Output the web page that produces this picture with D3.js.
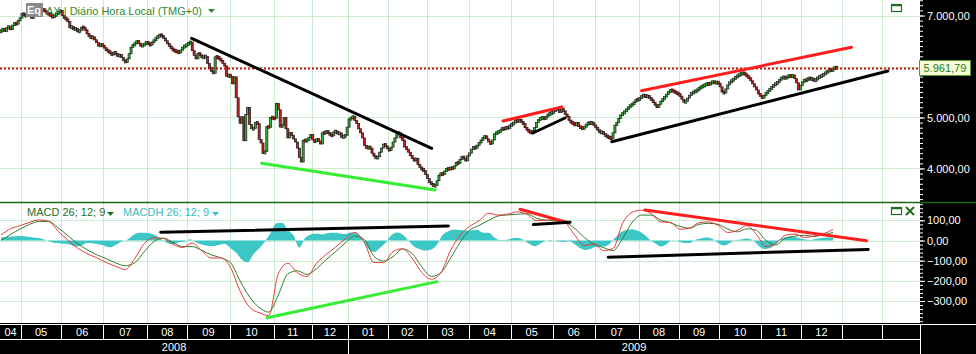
<!DOCTYPE html>
<html>
<head>
<meta charset="utf-8" />
<style>
  html, body { margin: 0; padding: 0; background: #fff; }
  svg { display: block; font-family: "Liberation Sans", Arial, sans-serif; }
</style>
</head>
<body>
<svg id="chart" width="976" height="354"></svg>
<script src="https://cdn.jsdelivr.net/npm/d3@7/dist/d3.min.js"></script>
<script>
// ---------- data ----------
// months on the time axis and trading-day slots in each (Apr 2008 partial .. Feb 2010 empty)
const monthLabels = ['04','05','06','07','08','09','10','11','12','01','02','03','04','05','06','07','08','09','10','11','12','',''];
const monthSlots  = [11,21,22,23,21,22,23,20,19,21,20,22,22,22,22,23,21,21,22,21,21,21,20];
const yearLabels = ['2008', '2009'];
const yearFirstMonth = [0, 9];

// daily closes, one row per month
const closes2008 = [
  [6700,6740,6690,6760,6780,6720,6810,6850,6830,6900,6950],
  [7040,7010,6990,7050,7000,6950,6990,7040,7070,7110,7100,7120,7080,7040,7030,6990,6970,7000,7030,7070,7096],
  [7000,6950,6930,6880,6760,6780,6720,6750,6680,6700,6770,6760,6720,6640,6600,6560,6580,6520,6470,6400,6430,6418],
  [6360,6320,6300,6260,6230,6280,6250,6200,6230,6180,6120,6080,6150,6250,6380,6420,6450,6500,6460,6400,6420,6440,6479],
  [6440,6420,6480,6510,6560,6590,6620,6600,6560,6500,6450,6400,6350,6320,6300,6290,6270,6320,6380,6400,6422],
  [6460,6480,6310,6220,6150,6260,6230,6170,6190,6200,6060,5980,5900,5870,6190,6180,6150,6120,6060,6010,5810,5831],
  [5806,5660,5797,5387,5014,4887,5013,4544,5062,5199,4861,4780,4782,4901,4880,4571,4500,4295,4335,4823,4808,5003,4988],
  [4980,5278,5152,4813,4850,5000,4780,4600,4700,4650,4580,4520,4400,4218,4127,4555,4540,4560,4600,4670],
  [4560,4520,4580,4540,4480,4700,4690,4730,4700,4660,4640,4720,4730,4680,4696,4610,4630,4650,4810]
];
const closes2009 = [
  [4973,4983,5026,4940,4880,4780,4700,4600,4450,4400,4420,4400,4300,4240,4200,4230,4320,4400,4480,4440,4390],
  [4350,4420,4520,4600,4680,4700,4600,4560,4420,4380,4320,4250,4200,4150,4200,4080,4020,3980,3960,3880],
  [3800,3720,3700,3660,3666,3760,3870,3900,3880,3950,4000,3980,4020,3990,4050,4120,4100,4180,4230,4200,4150,4250],
  [4300,4380,4420,4400,4460,4500,4560,4600,4640,4580,4520,4480,4560,4680,4700,4720,4740,4800,4760,4820,4780,4850],
  [4860,4900,4940,4920,4960,4910,4880,4800,4760,4720,4700,4740,4800,4900,4960,4980,5000,4970,5020,5060,5080,5100],
  [5120,5180,5150,5100,5160,5130,5060,5020,4940,4900,4880,4850,4900,4820,4800,4780,4820,4860,4900,4880,4900,4850],
  [4800,4760,4700,4720,4680,4640,4620,4600,4590,4700,4850,4900,4980,5050,5080,5120,5160,5200,5240,5260,5300,5360,5340],
  [5380,5420,5440,5400,5430,5380,5340,5300,5240,5200,5260,5320,5360,5400,5460,5500,5540,5520,5500,5480,5460],
  [5420,5360,5300,5320,5380,5440,5480,5500,5520,5540,5580,5600,5620,5640,5660,5650,5680,5700,5680,5690,5675],
  [5600,5500,5480,5560,5640,5700,5720,5760,5790,5820,5840,5860,5870,5850,5800,5780,5720,5660,5600,5540,5460,5420],
  [5380,5440,5480,5520,5560,5600,5640,5660,5690,5740,5780,5790,5770,5800,5820,5800,5830,5760,5680,5540,5625],
  [5700,5740,5720,5780,5750,5760,5720,5740,5790,5800,5820,5850,5880,5900,5940,5920,5950,5990,5961.79]
];
const firstOpen = 6680;
const lastPrice = 5961.79;

// MACD read every 5 slots, histogram every 3 slots
const macdStep = 5;
const histStep = 3;
const macdValues = [27,58,74,90,102,95,45,2,-37,-65,-85,-109,-128,-144,-89,-15,14,10,-19,-35,-13,-51,-87,-86,-133,-250,-331,-358,-372,-165,-113,-160,-178,-113,-70,-32,8,40,-10,-109,-110,-55,-41,-88,-158,-192,-160,-50,25,70,98,135,126,131,142,130,99,100,104,88,26,-25,-17,-50,-40,85,140,150,133,92,90,56,61,88,92,75,40,50,74,30,-30,-15,26,32,15,22,33,55];
const signalValues = [0,30,57,80,95,94,62,24,-15,-45,-70,-90,-111,-125,-110,-55,-5,12,-10,-30,-30,-49,-71,-86,-110,-200,-280,-332,-355,-270,-165,-150,-168,-140,-95,-55,-12,22,5,-78,-102,-80,-42,-65,-130,-178,-160,-88,-10,50,75,100,122,127,130,133,110,101,98,90,60,15,-18,-35,-50,10,90,126,126,101,88,70,61,80,85,80,57,43,58,50,0,-22,10,22,26,20,28,40];
const histValues = [15,18,20,22,21,18,14,10,0,-10,-13,-16,-20,-30,-25,-12,-13,-18,-26,-34,-22,-5,4,25,38,38,35,25,6,-12,-19,-9,-5,6,-10,-20,-26,-28,-22,-16,-38,-61,-95,-108,-68,-40,-5,38,85,88,52,25,-35,12,30,35,30,37,38,35,32,40,35,5,-40,-57,-38,-12,25,40,30,0,-30,-43,-50,-45,-20,28,46,54,52,50,50,53,38,38,15,2,3,10,12,4,-15,-28,-16,0,2,-4,-7,-2,-18,-38,-47,-38,-30,-30,-18,12,40,52,56,48,32,6,-14,-30,-18,2,-4,-12,-12,4,10,15,8,-12,-25,-12,2,5,10,2,-25,-42,-38,-20,10,18,20,13,6,3,8,12,15,14];

// hand-drawn trend lines: [slot, value] end points
const priceTrends = [
  {kind: 'black', from: [100.2, 6553], to: [225.7, 4396]},
  {kind: 'green', from: [136.8, 4102], to: [227.4, 3578]},
  {kind: 'red',   from: [263.0, 4931], to: [293.8, 5206]},
  {kind: 'black', from: [278.6, 4696], to: [295.4, 4990]},
  {kind: 'red',   from: [335.4, 5525], to: [445.2, 6376]},
  {kind: 'black', from: [319.8, 4525], to: [464.2, 5912]}
];
const macdTrends = [
  {kind: 'black', from: [84.0, 41],   to: [234.4, 72]},
  {kind: 'green', from: [139.6, -383], to: [228.5, -204]},
  {kind: 'red',   from: [271.9, 155], to: [297.1, 88]},
  {kind: 'black', from: [278.8, 80],  to: [298.0, 90]},
  {kind: 'red',   from: [337.2, 151], to: [453.1, -1]},
  {kind: 'black', from: [318.0, -83], to: [453.9, -44]}
];

const priceGrid = [4000, 5000, 6000, 7000];
const priceLabels = [4000, 5000, 7000]; // 6.000 sits under the last-price box
const macdTicks = [100, 0, -100, -200, -300];

// ---------- layout ----------
const plotW = 920;
const priceTop = 0, priceBottom = 202;
const macdTop = 203, macdBottom = 323;
const trendColor = {black: '#000000', red: '#ff1e1e', green: '#33ee33'};
const gridColor = '#cdeccd';

const fmt = d3.formatLocale({decimal: ',', thousands: '.', grouping: [3], currency: ['', '']}).format(',.2f');

const monthStart = [0];
monthSlots.forEach((n, i) => monthStart.push(monthStart[i] + n));
const totalSlots = monthStart[monthStart.length - 1];

const candles = [];
let prev = firstOpen;
closes2008.concat(closes2009).forEach((month, m) => {
  month.forEach((c, j) => {
    candles.push({slot: monthStart[m] + j, open: prev, close: c});
    prev = c;
  });
});

const x = d3.scaleLinear().domain([0, totalSlots]).range([0, plotW]);
const yP = d3.scaleLinear().domain([3343, 7304]).range([priceBottom, priceTop]);
const yM = d3.scaleLinear().domain([-409, 186]).range([macdBottom, macdTop]);

const svg = d3.select('#chart');

svg.append('rect').attr('width', 976).attr('height', 354).attr('fill', '#fff');

const defs = svg.append('defs');
defs.append('clipPath').attr('id', 'clipP').append('rect')
  .attr('x', 0).attr('y', priceTop).attr('width', plotW).attr('height', priceBottom - priceTop);
defs.append('clipPath').attr('id', 'clipM').append('rect')
  .attr('x', 0).attr('y', macdTop).attr('width', plotW).attr('height', macdBottom - macdTop);

// grid
const grid = svg.append('g').attr('shape-rendering', 'crispEdges').attr('stroke', gridColor);
grid.selectAll('line.v').data(monthStart.slice(1, -1)).join('line')
  .attr('x1', d => Math.round(x(d)) + 0.5).attr('x2', d => Math.round(x(d)) + 0.5)
  .attr('y1', 0).attr('y2', macdBottom);
grid.selectAll('line.hp').data(priceGrid).join('line')
  .attr('x1', 0).attr('x2', plotW)
  .attr('y1', d => Math.round(yP(d)) + 0.5).attr('y2', d => Math.round(yP(d)) + 0.5);
grid.selectAll('line.hm').data(macdTicks).join('line')
  .attr('x1', 0).attr('x2', plotW)
  .attr('y1', d => Math.round(yM(d)) + 0.5).attr('y2', d => Math.round(yM(d)) + 0.5);

// ---------- price panel ----------
const gP = svg.append('g').attr('clip-path', 'url(#clipP)');
const cw = 2.1;
gP.selectAll('rect.candle').data(candles).join('rect')
  .attr('class', 'candle')
  .attr('x', d => x(d.slot + 0.5) - cw / 2)
  .attr('width', cw)
  .attr('y', d => Math.min(yP(Math.max(d.open, d.close)), (yP(d.open) + yP(d.close)) / 2 - 1.5))
  .attr('height', d => Math.max(3, Math.abs(yP(d.open) - yP(d.close))))
  .attr('fill', d => d.close >= d.open ? '#2fb52f' : '#c42020')
  .attr('stroke', '#1a1a1a')
  .attr('stroke-width', 0.7);

gP.append('line')
  .attr('x1', 0).attr('x2', plotW)
  .attr('y1', yP(lastPrice)).attr('y2', yP(lastPrice))
  .attr('stroke', '#cc1010').attr('stroke-width', 2).attr('stroke-dasharray', '2,2');

gP.selectAll('line.trend').data(priceTrends).join('line')
  .attr('x1', d => x(d.from[0])).attr('y1', d => yP(d.from[1]))
  .attr('x2', d => x(d.to[0])).attr('y2', d => yP(d.to[1]))
  .attr('stroke', d => trendColor[d.kind]).attr('stroke-width', 3).attr('stroke-linecap', 'round');

// ---------- MACD panel ----------
const gM = svg.append('g').attr('clip-path', 'url(#clipM)');
gM.append('path')
  .datum(histValues)
  .attr('d', d3.area()
    .x((d, i) => x(i * histStep + 0.5))
    .y0(yM(0))
    .y1(d => yM(d))
    .curve(d3.curveMonotoneX))
  .attr('fill', '#3cc6c6');

const macdLine = d3.line()
  .x((d, i) => x(i * macdStep + 0.5))
  .y(d => yM(d))
  .curve(d3.curveMonotoneX);
gM.append('path').datum(signalValues).attr('d', macdLine)
  .attr('fill', 'none').attr('stroke', '#2f7f2f').attr('stroke-width', 1);
gM.append('path').datum(macdValues).attr('d', macdLine)
  .attr('fill', 'none').attr('stroke', '#e83a3a').attr('stroke-width', 1);

gM.selectAll('line.trend').data(macdTrends).join('line')
  .attr('x1', d => x(d.from[0])).attr('y1', d => yM(d.from[1]))
  .attr('x2', d => x(d.to[0])).attr('y2', d => yM(d.to[1]))
  .attr('stroke', d => trendColor[d.kind]).attr('stroke-width', 3).attr('stroke-linecap', 'round');

// panel separator
svg.append('line').attr('x1', 0).attr('x2', 976).attr('y1', 202.5).attr('y2', 202.5)
  .attr('stroke', '#17661a').attr('stroke-width', 1.5);

// ---------- right axes ----------
svg.append('rect').attr('x', plotW).attr('y', 0).attr('width', 976 - plotW).attr('height', 354).attr('fill', '#000');
svg.append('line').attr('x1', plotW).attr('x2', 976).attr('y1', 202.5).attr('y2', 202.5)
  .attr('stroke', '#17661a').attr('stroke-width', 1.5);

function styleAxis(g) {
  g.select('.domain').remove();
  g.selectAll('line').attr('stroke', '#fff');
  g.selectAll('text').attr('fill', '#fff').attr('font-size', 11)
    .attr('font-family', '"Liberation Sans", Arial, sans-serif');
}

svg.append('g').attr('transform', `translate(${plotW},0)`)
  .call(d3.axisRight(yP).tickValues(d3.range(3400, 7301, 100)).tickSize(3).tickFormat(''))
  .call(styleAxis);
svg.append('g').attr('transform', `translate(${plotW},0)`)
  .call(d3.axisRight(yP).tickValues(priceLabels).tickSize(5).tickPadding(2).tickFormat(fmt))
  .call(styleAxis);

svg.append('g').attr('transform', `translate(${plotW},0)`)
  .call(d3.axisRight(yM).tickValues(d3.range(-400, 181, 20)).tickSize(3).tickFormat(''))
  .call(styleAxis);
svg.append('g').attr('transform', `translate(${plotW},0)`)
  .call(d3.axisRight(yM).tickValues(macdTicks).tickSize(5).tickPadding(2).tickFormat(fmt))
  .call(styleAxis);

// last price marker
const lp = svg.append('g').attr('transform', `translate(${plotW - 0.5},${Math.round(yP(lastPrice)) - 7.5})`);
lp.append('rect').attr('width', 51).attr('height', 15).attr('fill', '#f8fcd6').attr('stroke', '#4e9a35');
lp.append('text').attr('x', 4).attr('y', 11.5).attr('font-size', 11).attr('fill', '#1f7a1f').text(fmt(lastPrice));

// ---------- date axis ----------
const band = svg.append('g');
band.append('rect').attr('x', 0).attr('y', macdBottom).attr('width', 976).attr('height', 354 - macdBottom).attr('fill', '#000');
const wl = band.append('g').attr('stroke', '#fff').attr('shape-rendering', 'crispEdges');
wl.append('line').attr('x1', 0).attr('x2', 976).attr('y1', 324.5).attr('y2', 324.5);
wl.append('line').attr('x1', 0).attr('x2', plotW).attr('y1', 339.5).attr('y2', 339.5);
wl.selectAll('line.m').data(monthStart.slice(1, -1)).join('line')
  .attr('x1', d => Math.round(x(d)) + 0.5).attr('x2', d => Math.round(x(d)) + 0.5)
  .attr('y1', 324).attr('y2', 339);
wl.selectAll('line.y').data(yearFirstMonth.slice(1)).join('line')
  .attr('x1', d => Math.round(x(monthStart[d])) + 0.5).attr('x2', d => Math.round(x(monthStart[d])) + 0.5)
  .attr('y1', 339).attr('y2', 354);
wl.append('line').attr('x1', plotW + 0.5).attr('x2', plotW + 0.5).attr('y1', 324).attr('y2', 354);

band.selectAll('text.month').data(monthLabels).join('text')
  .attr('x', (d, i) => (x(monthStart[i]) + x(monthStart[i + 1])) / 2)
  .attr('y', 336)
  .attr('text-anchor', 'middle').attr('font-size', 11).attr('fill', '#fff')
  .text(d => d);
band.selectAll('text.year').data(yearLabels).join('text')
  .attr('x', (d, i) => {
    const a = x(monthStart[yearFirstMonth[i]]);
    const b = i + 1 < yearFirstMonth.length ? x(monthStart[yearFirstMonth[i + 1]]) : plotW;
    return (a + b) / 2;
  })
  .attr('y', 351)
  .attr('text-anchor', 'middle').attr('font-size', 11).attr('fill', '#fff')
  .text(d => d);

// ---------- legends and panel icons ----------
const tri = 'M0,0 L7,0 L3.5,4 Z';
svg.append('rect').attr('x', 26).attr('y', 3).attr('width', 17).attr('height', 14).attr('fill', '#8a8a8a');
svg.append('text').attr('x', 27).attr('y', 14).attr('font-size', 11).attr('font-weight', 'bold').attr('fill', '#fff').text('Eq');
svg.append('text').attr('x', 46).attr('y', 15).attr('font-size', 11).attr('fill', '#2e8b2e')
  .text('AX | Diário Hora Local (TMG+0)');
svg.append('path').attr('d', tri).attr('transform', 'translate(208,9)').attr('fill', '#2e8b2e');

svg.append('text').attr('x', 27).attr('y', 216).attr('font-size', 11).attr('fill', '#1e6e1e').text('MACD 26; 12; 9');
svg.append('path').attr('d', tri).attr('transform', 'translate(107,212)').attr('fill', '#1e6e1e');
svg.append('text').attr('x', 123).attr('y', 216).attr('font-size', 11).attr('fill', '#3cbcbc').text('MACDH 26; 12; 9');
svg.append('path').attr('d', tri).attr('transform', 'translate(212,212)').attr('fill', '#3cbcbc');

const icon = '#1f6e1f';
svg.append('rect').attr('x', 891.5).attr('y', 4.5).attr('width', 10).attr('height', 7)
  .attr('fill', 'none').attr('stroke', icon).attr('stroke-width', 1.2);
svg.append('line').attr('x1', 891.5).attr('x2', 901.5).attr('y1', 5.5).attr('y2', 5.5).attr('stroke', icon).attr('stroke-width', 1.5);
svg.append('rect').attr('x', 891.5).attr('y', 207.5).attr('width', 10).attr('height', 7)
  .attr('fill', 'none').attr('stroke', icon).attr('stroke-width', 1.2);
svg.append('line').attr('x1', 891.5).attr('x2', 901.5).attr('y1', 208.5).attr('y2', 208.5).attr('stroke', icon).attr('stroke-width', 1.5);
svg.append('path').attr('d', 'M906,207 L914,215 M914,207 L906,215').attr('stroke', icon).attr('stroke-width', 2);
</script>
</body>
</html>
